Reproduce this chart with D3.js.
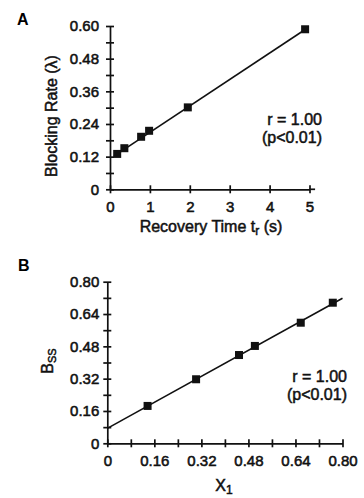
<!DOCTYPE html>
<html>
<head>
<meta charset="utf-8">
<script src="https://cdn.jsdelivr.net/npm/d3@7"></script>
<style>
  body { margin: 0; background: #fff; }
  svg { display: block; font-family: "Liberation Sans", Arial, Helvetica, sans-serif; }
  .axis path, .axis line { stroke: #111; stroke-width: 1.7; }
  .axis text { font-size: 15px; fill: #111; stroke: #111; stroke-width: 0.55; font-family: "Liberation Sans", Arial, sans-serif; }
  .lbl { font-size: 16px; fill: #111; stroke: #111; stroke-width: 0.5; }
</style>
</head>
<body>
<div id="chart-area"></div>
<script>
// panel A data
var recoveryTime = [0.18, 0.36, 0.78, 0.98, 1.95, 4.89];
var blockingRate = [0.130, 0.151, 0.193, 0.215, 0.301, 0.588];
var fitA_x = [0.10, 4.92];
var fitA_y = [0.122, 0.590];
var ticksA_x = [0, 1, 2, 3, 4, 5];
var ticksA_y = [0, 0.06, 0.12, 0.18, 0.24, 0.30, 0.36, 0.42, 0.48, 0.54, 0.60];
var labelsA_y = ["0", "", "0.12", "", "0.24", "", "0.36", "", "0.48", "", "0.60"];

// panel B data
var x1 = [0.137, 0.302, 0.448, 0.502, 0.658, 0.767];
var bss = [0.185, 0.317, 0.437, 0.482, 0.597, 0.696];
var fitB_x = [0, 0.80];
var fitB_y = [0.074, 0.718];
var ticksB = [0, 0.08, 0.16, 0.24, 0.32, 0.40, 0.48, 0.56, 0.64, 0.72, 0.80];
var labelsB = ["0", "", "0.16", "", "0.32", "", "0.48", "", "0.64", "", "0.80"];

var svg = d3.select("#chart-area")
	.append("svg")
		.attr("width", 364)
		.attr("height", 498);

function drawPanel(opt) {
	var x = d3.scaleLinear().domain(opt.xDomain).range(opt.xRange);
	var y = d3.scaleLinear().domain(opt.yDomain).range(opt.yRange);

	// X Axis
	var xAxisCall = d3.axisBottom(x)
		.tickValues(opt.xTicks)
		.tickFormat(function(d, i){ return opt.xLabels[i]; })
		.tickSize(4)
		.tickSizeOuter(0)
		.tickPadding(8);
	var gx = svg.append("g")
		.attr("class", "x axis")
		.attr("transform", "translate(0, " + opt.yRange[0] + ")")
		.call(xAxisCall);
	gx.selectAll(".tick line").attr("y1", -4);

	// Y Axis
	var yAxisCall = d3.axisLeft(y)
		.tickValues(opt.yTicks)
		.tickFormat(function(d, i){ return opt.yLabels[i]; })
		.tickSize(4)
		.tickSizeOuter(0)
		.tickPadding(opt.yPad);
	var gy = svg.append("g")
		.attr("class", "y axis")
		.attr("transform", "translate(" + opt.xRange[0] + ", 0)")
		.call(yAxisCall);
	gy.selectAll(".tick line").attr("x1", 4);

	if (opt.xExtend) {
		svg.append("line")
			.attr("x1", x(opt.xDomain[1])).attr("x2", x(opt.xExtend))
			.attr("y1", opt.yRange[0]).attr("y2", opt.yRange[0])
			.attr("stroke", "#111").attr("stroke-width", 1.7);
	}

	// fit line
	svg.append("line")
		.attr("x1", x(opt.fitX[0])).attr("y1", y(opt.fitY[0]))
		.attr("x2", x(opt.fitX[1])).attr("y2", y(opt.fitY[1]))
		.attr("stroke", "#111")
		.attr("stroke-width", 1.6);

	// points
	svg.selectAll(null)
		.data(opt.xs)
		.enter()
		.append("rect")
			.attr("x", function(d){ return x(d) - 4; })
			.attr("y", function(d, i){ return y(opt.ys[i]) - 4; })
			.attr("width", 8)
			.attr("height", 8)
			.attr("fill", "#111");

	return {x: x, y: y};
}

drawPanel({
	xDomain: [0, 5], xRange: [110, 309.5],
	yDomain: [0, 0.60], yRange: [189.3, 26],
	xTicks: ticksA_x, xLabels: ticksA_x.map(String),
	yTicks: ticksA_y, yLabels: labelsA_y, yPad: 7,
	xExtend: 5.14,
	fitX: fitA_x, fitY: fitA_y,
	xs: recoveryTime, ys: blockingRate
});

drawPanel({
	xDomain: [0, 0.80], xRange: [107.3, 342.5],
	yDomain: [0, 0.80], yRange: [443.3, 281.7],
	xTicks: ticksB, xLabels: labelsB,
	yTicks: ticksB, yLabels: labelsB, yPad: 4,
	fitX: fitB_x, fitY: fitB_y,
	xs: x1, ys: bss
});

// panel letters
svg.append("text").attr("x", 17).attr("y", 25)
	.attr("font-size", "16px").attr("font-weight", "bold").text("A");
svg.append("text").attr("x", 18).attr("y", 271)
	.attr("font-size", "16px").attr("font-weight", "bold").text("B");

// Y label A
svg.append("text")
	.attr("class", "lbl")
	.attr("transform", "translate(57, 116) rotate(-90)")
	.attr("text-anchor", "middle")
	.text("Blocking Rate (\u03bb)");

// X label A
var xa = svg.append("text")
	.attr("class", "lbl")
	.attr("x", 211)
	.attr("y", 232)
	.attr("text-anchor", "middle");
xa.append("tspan").text("Recovery Time t");
xa.append("tspan").attr("font-size", "12px").attr("dy", 3).text("r");
xa.append("tspan").attr("dy", -3).text(" (s)");

// Y label B
var yb = svg.append("text")
	.attr("class", "lbl")
	.attr("transform", "translate(53, 361) rotate(-90)")
	.attr("text-anchor", "middle");
yb.append("tspan").text("B");
yb.append("tspan").attr("font-size", "11px").attr("dy", 3).text("SS");

// X label B
var xb = svg.append("text")
	.attr("class", "lbl")
	.attr("x", 224)
	.attr("y", 491)
	.attr("text-anchor", "middle");
xb.append("tspan").text("X");
xb.append("tspan").attr("font-size", "12px").attr("dy", 3).text("1");

// stats annotations
function stats(xr, y0) {
	svg.append("text").attr("class", "lbl").attr("font-size", "16.5px")
		.attr("x", xr).attr("y", y0).attr("text-anchor", "end").text("r = 1.00");
	svg.append("text").attr("class", "lbl").attr("font-size", "16.5px")
		.attr("x", xr).attr("y", y0 + 18).attr("text-anchor", "end").text("(p<0.01)");
}
stats(322, 125);
stats(347, 382);
</script>
</body>
</html>
